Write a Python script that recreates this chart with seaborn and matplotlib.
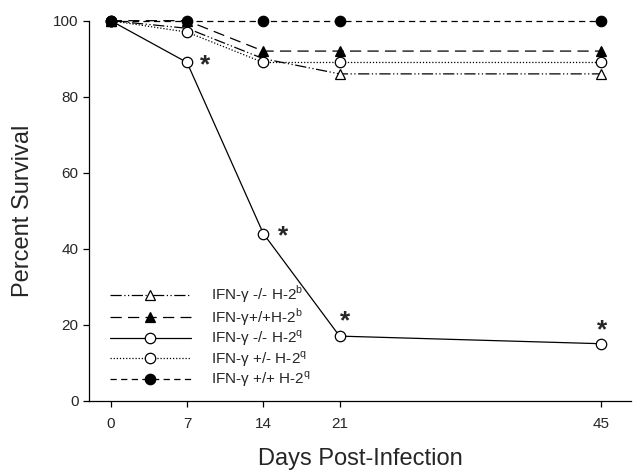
import numpy as np
import pandas as pd
import matplotlib
matplotlib.use('Agg')
import matplotlib.pyplot as plt
import seaborn as sns

# Survival data
days = [0, 7, 14, 21, 45]
ko_b = [100, 98, 90, 86, 86]      # IFN-g -/- H-2b
wt_b = [100, 100, 92, 92, 92]     # IFN-g +/+ H-2b
ko_q = [100, 89, 44, 17, 15]      # IFN-g -/- H-2q
het_q = [100, 97, 89, 89, 89]     # IFN-g +/- H-2q
wt_q = [100, 100, 100, 100, 100]  # IFN-g +/+ H-2q

labels = ['IFN-γ -/- H-2$^{\\mathregular{b}}$',
          'IFN-γ+/+H-2$^{\\mathregular{b}}$',
          'IFN-γ -/- H-2$^{\\mathregular{q}}$',
          'IFN-γ +/- H-2$^{\\mathregular{q}}$',
          'IFN-γ +/+ H-2$^{\\mathregular{q}}$']

# days with significant difference (marked with *) on the -/- H-2q curve
sig_days = [7, 14, 21, 45]

sns.set_style('ticks')
plt.rcParams['font.family'] = ['Liberation Sans', 'DejaVu Sans']
plt.rcParams['mathtext.fontset'] = 'custom'
plt.rcParams['mathtext.rm'] = 'Liberation Sans'

fig = plt.figure(figsize=(6.33, 4.70), dpi=100)
ax = fig.add_axes([0.1406, 0.1474, 0.857, 0.8086])

series = [
    (ko_b, (0, (9, 2, 1, 2, 1, 2)), '^', 'white'),
    (wt_b, (0, (9, 5)), '^', 'black'),
    (ko_q, '-', 'o', 'white'),
    (het_q, (0, (1, 1.5)), 'o', 'white'),
    (wt_q, (0, (5, 3.5)), 'o', 'black'),
]

for (vals, ls, mk, fc), lab in zip(series, labels):
    df = pd.DataFrame({'day': days, 'surv': vals})
    sns.lineplot(data=df, x='day', y='surv', ax=ax, color='black',
                 linestyle=ls, linewidth=0.9, marker=mk, markersize=7.5,
                 markerfacecolor=fc, markeredgecolor='black',
                 markeredgewidth=0.9, label=lab, clip_on=False, zorder=3)

# asterisks next to the significant points
offsets = {7: (13, -2), 14: (14, -2), 21: (4, 11), 45: (1, 10)}
for d in sig_days:
    y = ko_q[days.index(d)]
    ax.annotate('*', xy=(d, y), xytext=offsets[d], textcoords='offset points',
                ha='center', va='center', fontsize=19, fontweight='bold')

ax.set_xlim(-2, 47.8)
ax.set_ylim(0, 100)
ax.set_xticks(days)
ax.set_yticks([0, 20, 40, 60, 80, 100])
ax.tick_params(direction='out', length=4, width=0.9, labelsize=11, color='black')
ax.tick_params(axis='x', pad=8)
for s in ['left', 'bottom']:
    ax.spines[s].set_linewidth(0.9)
    ax.spines[s].set_color('black')
sns.despine(ax=ax)

ax.set_xlabel('Days Post-Infection', fontsize=17, labelpad=12)
ax.set_ylabel('Percent Survival', fontsize=17, labelpad=14)

ax.legend(loc='lower left', bbox_to_anchor=(0.013, -0.006), frameon=False,
          fontsize=11, handlelength=5.3, handletextpad=1.3, labelspacing=0.05)

plt.savefig('out.png', dpi=100)
